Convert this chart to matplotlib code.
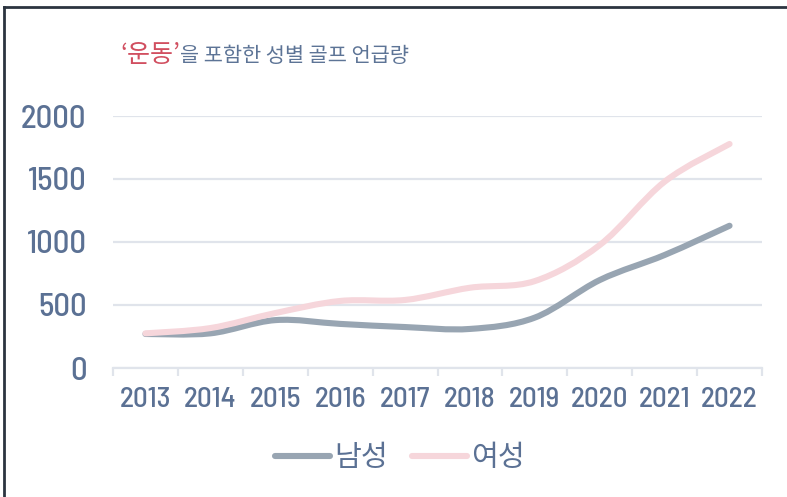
import numpy as np
import matplotlib
matplotlib.use('Agg')
import matplotlib.pyplot as plt
from matplotlib.path import Path
from matplotlib.patches import PathPatch
from matplotlib.lines import Line2D

years = ['2013', '2014', '2015', '2016', '2017', '2018', '2019', '2020', '2021', '2022']
male = [270, 275, 380, 350, 325, 310, 400, 698, 897, 1129]
female = [275, 317, 436, 532, 540, 637, 690, 976, 1479, 1778]
yticks = [0, 500, 1000, 1500, 2000]

male_color = '#98a5b2'
female_color = '#f6d6db'
text_color = '#5b7194'
grid_color = '#e0e4eb'
num_font = ['Barlow Semi Condensed', 'DejaVu Sans']

plt.rcParams['font.family'] = ['Noto Sans CJK KR', 'DejaVu Sans']


def smooth_path(xs, ys):
    # catmull-rom style bezier through the points
    pts = np.column_stack([xs, ys]).astype(float)
    verts = [pts[0]]
    codes = [Path.MOVETO]
    n = len(pts)
    for i in range(n - 1):
        p0 = pts[max(i - 1, 0)]
        p1 = pts[i]
        p2 = pts[i + 1]
        p3 = pts[min(i + 2, n - 1)]
        c1 = p1 + (p2 - p0) / 6.0
        c2 = p2 - (p3 - p1) / 6.0
        verts += [c1, c2, p2]
        codes += [Path.CURVE4] * 3
    return Path(verts, codes)


fig = plt.figure(figsize=(7.87, 4.97), dpi=100)
ax = fig.add_axes([113 / 787, 1 - 368 / 497, (762 - 113) / 787, (368 - 116) / 497])

x = np.arange(len(years))
for vals, col in [(male, male_color), (female, female_color)]:
    patch = PathPatch(smooth_path(x, vals), facecolor='none', edgecolor=col,
                      lw=4.4, capstyle='round', joinstyle='round', clip_on=False)
    ax.add_patch(patch)
ax.set_xlim(-0.5, len(years) - 0.5)
ax.set_ylim(0, 2000)

ax.set_yticks(yticks)
ax.set_yticklabels([str(v) for v in yticks], family=num_font, weight='medium',
                   fontsize=23.5, color=text_color)
ax.tick_params(axis='y', length=0, pad=19)
ax.grid(axis='y', color=grid_color, lw=1.6)
ax.set_axisbelow(True)

ax.set_xticks(x)
ax.set_xticklabels(years, family=num_font, weight='medium', fontsize=21, color=text_color)
ax.set_xticks(np.arange(len(years) + 1) - 0.5, minor=True)
ax.tick_params(axis='x', which='major', length=0, pad=14)
ax.tick_params(axis='x', which='minor', length=6, width=1.6, color=grid_color)

for s in ['top', 'right', 'left']:
    ax.spines[s].set_visible(False)
ax.spines['bottom'].set_color(grid_color)
ax.spines['bottom'].set_linewidth(1.6)

handles = [Line2D([], [], color=male_color, lw=4.4, solid_capstyle='round'),
           Line2D([], [], color=female_color, lw=4.4, solid_capstyle='round')]
leg = fig.legend(handles, ['남성', '여성'], loc='center', bbox_to_anchor=(400 / 787, 1 - 458 / 497),
                 ncol=2, frameon=False, prop={'size': 21, 'weight': 'medium'},
                 handlelength=1.9, handletextpad=0.15, columnspacing=0.8)
for t in leg.get_texts():
    t.set_color(text_color)

# title in two colours
t1 = fig.text(120 / 787, 1 - 55 / 497, '‘운동’', fontsize=18, color='#d14f60', va='center', ha='left',
              weight='medium')
fig.canvas.draw()
bb = t1.get_window_extent()
x2 = bb.x1 / fig.bbox.width
fig.text(x2, 1 - 56 / 497, '을 포함한 성별 골프 언급량', fontsize=15, color='#5d7496', va='center', ha='left',
         weight='medium')

# frame on top and left
fig.add_artist(Line2D([4 / 787, 1], [1 - 7 / 497, 1 - 7 / 497], transform=fig.transFigure,
                      color='#2c3440', lw=2))
fig.add_artist(Line2D([4 / 787, 4 / 787], [0, 1 - 7 / 497], transform=fig.transFigure,
                      color='#2c3440', lw=2))

fig.savefig('out.png', dpi=100)
